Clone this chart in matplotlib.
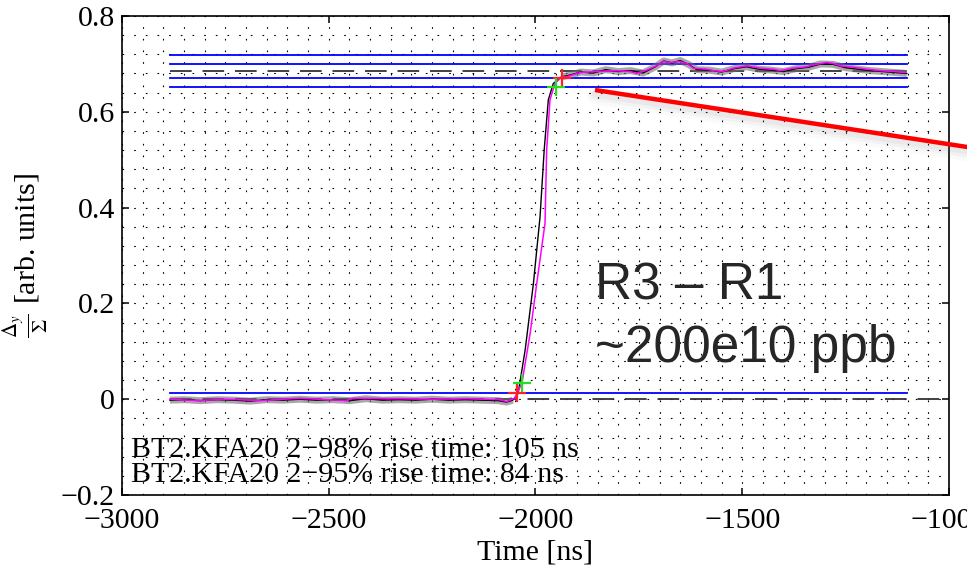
import matplotlib
matplotlib.use("Agg")
import matplotlib.pyplot as plt
from matplotlib.ticker import MultipleLocator
from matplotlib.lines import Line2D

plt.rcParams['font.family'] = ['Liberation Serif', 'DejaVu Serif']
plt.rcParams['mathtext.fontset'] = 'stix'

# ---------------- data ----------------
xlim = [-3000, -1000]
ylim = [-0.2, 0.8]
xticks = [-3000, -2500, -2000, -1500, -1000]
yticks = [-0.2, 0, 0.2, 0.4, 0.6, 0.8]

# raw signal (black)
raw_t = [-2884, -2850, -2810, -2770, -2730, -2690, -2650, -2610, -2570, -2530,
         -2490, -2450, -2410, -2370, -2330, -2290, -2250, -2210, -2170, -2130,
         -2090, -2070, -2055,
         -2042, -2025, -2005, -1989, -1979, -1969, -1957, -1937,
         -1920, -1890, -1860, -1830, -1800, -1770, -1740, -1710, -1690, -1670,
         -1650, -1630, -1610, -1580, -1550, -1520, -1490, -1460, -1430, -1400,
         -1370, -1340, -1310, -1280, -1250, -1220, -1190, -1160, -1130, -1102]
raw_v = [-0.002, -0.001, -0.003, -0.001, -0.002, -0.004, -0.001, -0.002, 0.000, -0.002,
         -0.001, -0.003, 0.001, -0.002, -0.001, -0.002, 0.000, -0.002, -0.001, -0.002,
         -0.003, -0.006, -0.002,
         0.012, 0.103, 0.242, 0.381, 0.520, 0.625, 0.659, 0.673,
         0.676, 0.683, 0.681, 0.688, 0.684, 0.686, 0.681, 0.694, 0.706, 0.702,
         0.707, 0.699, 0.688, 0.687, 0.683, 0.690, 0.694, 0.689, 0.687, 0.684,
         0.690, 0.693, 0.700, 0.699, 0.692, 0.689, 0.686, 0.684, 0.682, 0.680]

# filtered signal (magenta)
filt_t = [-2884, -2819, -2747, -2666, -2570, -2457, -2441, -2328, -2247, -2166,
          -2086, -2070, -2050, -2045, -2033, -2013, -1997, -1977, -1973, -1965,
          -1953, -1937, -1926, -1892, -1852, -1812, -1771, -1755, -1731, -1707,
          -1691, -1675, -1651, -1634, -1618, -1586, -1570, -1546, -1522, -1489,
          -1457, -1425, -1409, -1377, -1344, -1328, -1296, -1280, -1264, -1231,
          -1199, -1167, -1135, -1106]
filt_v = [0.000, -0.003, 0.000, -0.003, 0.002, -0.003, 0.002, 0.001, 0.000, 0.001,
          -0.001, -0.005, 0.002, 0.012, 0.033, 0.137, 0.242, 0.367, 0.520, 0.625,
          0.659, 0.673, 0.673, 0.682, 0.684, 0.686, 0.684, 0.680, 0.687, 0.696,
          0.705, 0.703, 0.705, 0.701, 0.691, 0.689, 0.686, 0.684, 0.691, 0.696,
          0.691, 0.689, 0.686, 0.691, 0.694, 0.698, 0.703, 0.701, 0.696, 0.693,
          0.689, 0.686, 0.684, 0.682]

# reference levels
span_t = [-2884, -1102]
blue_levels = [0.719, 0.699, 0.671, 0.651, 0.0137]
plateau_level = 0.685
zero_span_t = [-2884, -1000]

# rise-time markers
red_t = [-2045, -1937]
red_v = [0.0137, 0.671]
green_t = [-2033, -1950]
green_v = [0.034, 0.651]

text_98 = "BT2.KFA20 2\u221298% rise time: 105 ns"
text_95 = "BT2.KFA20 2\u221295% rise time: 84 ns"
note_line1 = "R3 \u2013 R1"
note_line2 = "~200e10 ppb"

FS = 21.5

# ---------------- figure ----------------
fig = plt.figure(figsize=(9.67, 5.65), dpi=100)
ax = fig.add_axes([122/967, 1-495/565, 827/967, 479/565])

ax.set_xlim(xlim)
ax.set_ylim(ylim)
ax.set_xticks(xticks)
ax.set_yticks(yticks)
ax.set_yticklabels(['\u22120.2', '0', '0.2', '0.4', '0.6', '0.8'])
ax.set_xticklabels(['\u22123000', '\u22122500', '\u22122000', '\u22121500', '\u22121000'])
ax.xaxis.set_minor_locator(MultipleLocator(50))
ax.yaxis.set_minor_locator(MultipleLocator(0.04))
ax.tick_params(which='major', direction='in', length=5, width=1.1,
               top=True, right=True, labelsize=FS, pad=5)
ax.tick_params(axis='x', which='major', pad=9)
ax.tick_params(which='minor', length=0)
ax.grid(which='both', color='k', linestyle=(0, (1.5, 9)), linewidth=0.8)
for s in ax.spines.values():
    s.set_linewidth(1.2)

# dashed reference lines
ax.plot(span_t, [plateau_level]*2, color='#333333', lw=1.3, dashes=(12, 6), zorder=2)
ax.plot(zero_span_t, [0, 0], color='#333333', lw=1.3, dashes=(12, 6), zorder=2)
# blue bands
for lv in blue_levels:
    ax.plot(span_t, [lv, lv], color='#0000ff', lw=1.3, zorder=3)

# noise envelope (grey) on flat parts
i0 = raw_t.index(-2055) + 1
i1 = raw_t.index(-1937)
ax.plot(raw_t[:i0], raw_v[:i0], color='#6e6e6e', lw=5, alpha=0.6,
        solid_capstyle='butt', zorder=4)
ax.plot(raw_t[i1:], raw_v[i1:], color='#6e6e6e', lw=5, alpha=0.6,
        solid_capstyle='butt', zorder=4)
ax.plot(raw_t, raw_v, color='black', lw=1.0, zorder=5)
ax.plot(filt_t, filt_v, color='#ff00ff', lw=1.1, zorder=6)

ax.plot(red_t, red_v, '+', color='#ff2020', ms=13, mew=1.6, zorder=7)
ax.plot(green_t, green_v, '+', color='#20e020', ms=13, mew=1.6, zorder=7)

ax.text(0.011, 0.079, text_98, transform=ax.transAxes, fontsize=FS, va='baseline')
ax.text(0.011, 0.028, text_95, transform=ax.transAxes, fontsize=FS, va='baseline')

ax.set_xlabel('Time [ns]', fontsize=FS, labelpad=4)
ax.set_ylabel(r'$\frac{\Delta_y}{\Sigma}$ [arb. units]', fontsize=FS, labelpad=8)

# overlay annotation
fig.text(595/967, 1-300/565, note_line1, fontsize=37, color='#262626',
         family=['Liberation Sans', 'DejaVu Sans'], va='baseline')
fig.text(595/967, 1-362/565, note_line2, fontsize=37, color='#262626',
         family=['Liberation Sans', 'DejaVu Sans'], va='baseline')

# red pointer with soft shadow
px = [595/967, 990/967]
py = [1-90/565, 1-150.5/565]
for w, a, off in [(12, 0.04, 6), (8, 0.06, 5), (5, 0.08, 4)]:
    fig.add_artist(Line2D(px, [v - off/565 for v in py], color='#808080',
                          lw=w, alpha=a, solid_capstyle='round'))
fig.add_artist(Line2D(px, py, color='#ff0000', lw=3.2, solid_capstyle='butt'))

fig.savefig('out.png', dpi=100)
